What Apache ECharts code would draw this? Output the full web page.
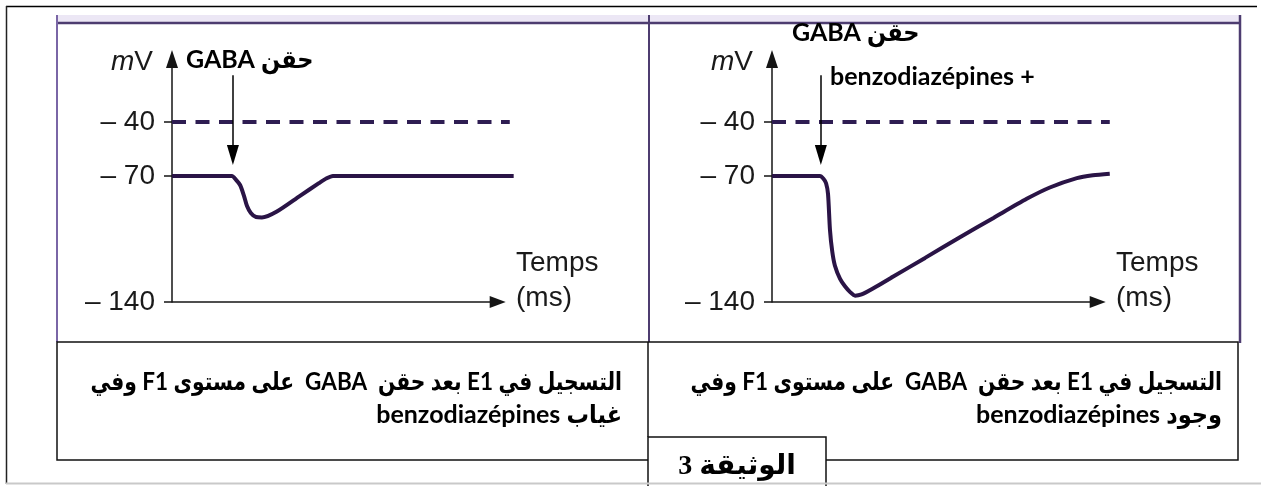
<!DOCTYPE html>
<html>
<head>
<meta charset="utf-8">
<script src="https://cdn.jsdelivr.net/npm/echarts@6/dist/echarts.min.js"></script>
<style>
  html, body { margin: 0; padding: 0; background: #fff; }
  #chart { width: 1261px; height: 486px; }
</style>
</head>
<body>
<div id="chart"></div>
<script>
// ---- data ----
const yTicks = [-140, -70, -40];
const thresholdMv = -40;
const injectionTimes = [18.7, 15.0];
const axisEndTime = 100;

// Left: GABA alone
const timeLeft = [0, 18.4, 19.6, 20.9, 22.1, 23.0, 24.2, 25.8, 27.6, 32.2, 39.3, 45.1, 47.5, 49.4, 104.9];
const mvLeft   = [-70, -70, -72, -75, -81, -86.5, -90.5, -92.8, -93, -89.7, -81, -74, -71.3, -70, -70];

// Right: GABA + benzodiazepines
const timeRight = [0, 14.7, 15.8, 16.6, 17.2, 17.8, 18.5, 19.3, 20.9, 22.4, 24.0, 25.5, 27.5, 31, 37.1, 47, 57.7, 68, 78.2, 85.3, 93.6, 98.5, 103.7];
const mvRight   = [-70, -70, -71.5, -74, -80, -100, -112, -119.7, -127.2, -131.3, -134.5, -136.5, -135.8, -132.5, -126, -115.5, -104, -93.3, -82.7, -76.4, -71.2, -69.6, -68.7];

const dashedTimes = [0, 103.7];

const labelInjection = 'حقن GABA';
const labelBenzo = '+ benzodiazépines';
const captionLine1 = 'التسجيل في E1 بعد حقن  GABA  على مستوى F1 وفي';
const captionLeft2 = 'غياب benzodiazépines';
const captionRight2 = 'وجود benzodiazépines';
const docTitle = 'الوثيقة 3';

// ---- helpers ----
const rtl = s => '\u202B' + s + '\u202C';
const zip = (xs, ys) => xs.map((x, i) => [x, ys[i]]);
const curveColor = '#2a1446';
const axisColor = '#151515';
const arFont = "Lato, 'DejaVu Sans Condensed', 'DejaVu Sans', sans-serif";
const axisTextStyle = { fontFamily: 'Liberation Sans', fontSize: 28, color: '#1a1a1a' };

function xAxisFor(g) {
  return {
    type: 'value', gridIndex: g, min: 0, max: 105,
    axisLine: { show: false },
    axisTick: { show: false }, axisLabel: { show: false }, splitLine: { show: false },
    name: '{a|Temps}\n{a|(ms)}\n{s| }', nameLocation: 'end', nameGap: 2,
    nameTextStyle: { align: 'left', verticalAlign: 'middle',
      rich: { a: Object.assign({ lineHeight: 35 }, axisTextStyle), s: { fontSize: 2, lineHeight: 42 } } }
  };
}
function yAxisFor(g) {
  return {
    type: 'value', gridIndex: g, min: -140, max: -5,
    axisLine: { show: true, onZero: false, symbol: ['none', 'triangle'], symbolSize: [12, 18],
                lineStyle: { color: axisColor, width: 1.5 } },
    axisTick: { show: true, customValues: yTicks, length: 8, lineStyle: { color: axisColor, width: 1.5 } },
    axisLabel: Object.assign({ show: true, customValues: yTicks, formatter: v => '– ' + Math.abs(v), margin: 17 }, axisTextStyle),
    splitLine: { show: false },
    name: '{i|m}V', nameLocation: 'end', nameGap: -3,
    nameTextStyle: Object.assign({ align: 'right', verticalAlign: 'middle', padding: [0, 19, 0, 0],
                     rich: { i: Object.assign({ fontStyle: 'italic' }, axisTextStyle) } }, axisTextStyle)
  };
}
function curveSeries(g, times, values, injT) {
  return {
    type: 'line', xAxisIndex: g, yAxisIndex: g, data: zip(times, values),
    showSymbol: false, symbol: 'none', smooth: 0.25,
    lineStyle: { color: curveColor, width: 4 }, z: 3,
    markLine: {
      silent: true, symbol: ['none', 'triangle'], symbolSize: [12, 20],
      label: { show: false },
      lineStyle: { color: '#000', width: 1.5, type: 'solid' },
      data: [[{ coord: [injT, -14] }, { coord: [injT, -58.3] }]]
    }
  };
}
function dashedSeries(g) {
  return {
    type: 'line', xAxisIndex: g, yAxisIndex: g,
    data: dashedTimes.map(t => [t, thresholdMv]),
    showSymbol: false, symbol: 'none',
    lineStyle: { color: '#2e1d52', width: 4, type: [14, 9.5] }, z: 2,
    // time axis line with its arrow, drawn along the -140 mV baseline
    markLine: {
      silent: true, symbol: ['none', 'triangle'], symbolSize: [12, 16],
      label: { show: false },
      lineStyle: { color: axisColor, width: 1.5, type: 'solid' },
      data: [[{ coord: [0, yTicks[0]] }, { coord: [axisEndTime, yTicks[0]] }]]
    }
  };
}

const line = (x1, y1, x2, y2, stroke, lw, z) => ({
  type: 'line', shape: { x1, y1, x2, y2 }, style: { stroke, lineWidth: lw }, z: z || 1, silent: true
});
const text = (t, x, y, align, font, z, sx) => ({
  type: 'text', x, y, z: z || 5, silent: true, scaleX: sx || 1,
  style: { text: t, align, verticalAlign: 'middle', font, fill: '#000' }
});

const chart = echarts.init(document.getElementById('chart'), null, { renderer: 'canvas' });
chart.setOption({
  animation: false,
  backgroundColor: '#fff',
  grid: [
    { left: 172, top: 59, width: 342, height: 243 },
    { left: 772, top: 59, width: 342, height: 243 }
  ],
  xAxis: [xAxisFor(0), xAxisFor(1)],
  yAxis: [yAxisFor(0), yAxisFor(1)],
  series: [
    dashedSeries(0), curveSeries(0, timeLeft, mvLeft, injectionTimes[0]),
    dashedSeries(1), curveSeries(1, timeRight, mvRight, injectionTimes[1])
  ],
  graphic: [
    // outer frame
    line(6, 6.5, 1257, 6.5, '#000', 1.5),
    line(6.5, 6, 6.5, 484, '#222', 1.5),
    // figure panel
    { type: 'rect', shape: { x: 57, y: 15, width: 1183, height: 7 }, style: { fill: '#ece7f5' }, z: 0, silent: true },
    line(57, 23, 1240, 23, '#4d3c70', 2.5),
    line(57, 15, 57, 342, '#7a66a6', 2),
    line(649, 15, 649, 342, '#4d3c70', 2),
    line(1240, 15, 1240, 343, '#4d3c70', 2.5),
    // caption table
    { type: 'rect', shape: { x: 57, y: 342, width: 1181, height: 118 }, style: { fill: 'none', stroke: '#111', lineWidth: 1.5 }, z: 1, silent: true },
    line(648, 342, 648, 437, '#111', 1.5),
    { type: 'rect', shape: { x: 648, y: 437, width: 178, height: 60 }, style: { fill: '#fff', stroke: '#111', lineWidth: 1.5 }, z: 2, silent: true },
    line(6, 483.5, 1261, 483.5, '#c9c9c9', 2, 3),
    // annotations
    text(rtl(labelInjection), 186, 60, 'left', 'bold 25px ' + arFont),
    text(rtl(labelInjection), 792, 33, 'left', 'bold 25px ' + arFont),
    text(rtl(labelBenzo), 830, 77, 'left', 'bold 25px ' + arFont),
    // captions
    text(rtl(captionLine1), 622, 382, 'right', 'bold 25px ' + arFont, 5, 0.9),
    text(rtl(captionLeft2), 622, 415, 'right', 'bold 25px ' + arFont),
    text(rtl(captionLine1), 1222, 382, 'right', 'bold 25px ' + arFont, 5, 0.9),
    text(rtl(captionRight2), 1222, 415, 'right', 'bold 25px ' + arFont),
    text(rtl(docTitle), 737, 467, 'center', "bold 28px 'Liberation Serif', 'DejaVu Sans', serif", 6)
  ]
});
</script>
</body>
</html>
